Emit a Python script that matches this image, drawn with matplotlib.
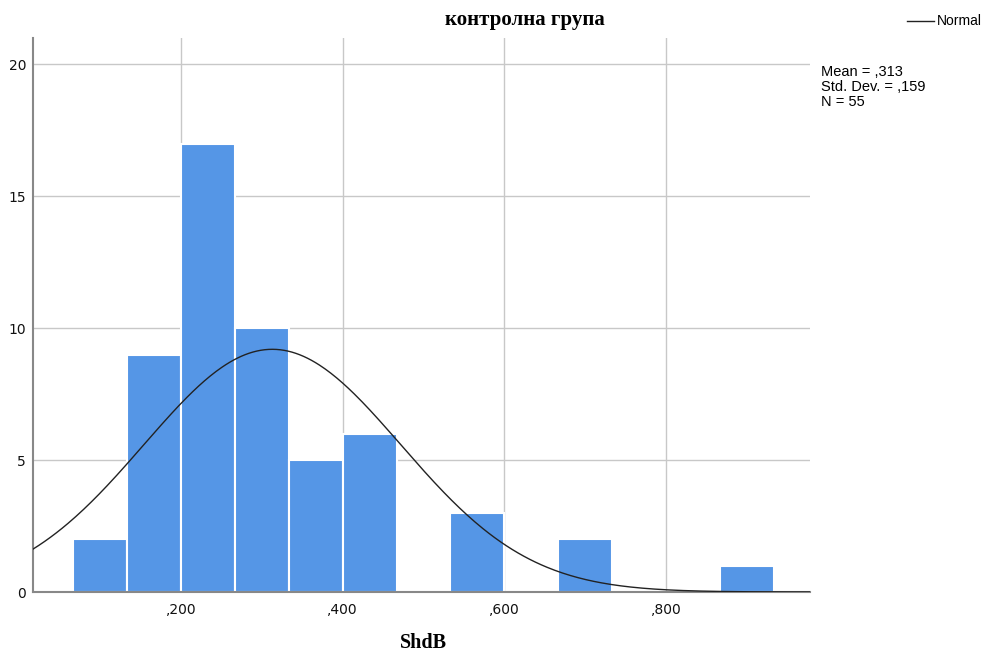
import numpy as np
import matplotlib
matplotlib.use("Agg")
from matplotlib import pyplot as plt
from matplotlib.ticker import FuncFormatter

# histogram bins (width 1/15) and counts
bin_edges = [0.0667 + k / 15 for k in range(14)]
counts = [2, 9, 17, 10, 5, 6, 0, 3, 0, 2, 0, 0, 1]

mean = 0.313
std = 0.159
n = 55

x_ticks = [0.2, 0.4, 0.6, 0.8]
y_ticks = [0, 5, 10, 15, 20]

fig = plt.figure(figsize=(9.82, 6.53), dpi=100)
ax = fig.add_axes([0.0336, 0.0934, 0.7912, 0.8484])

# bars
lefts = np.array(bin_edges[:-1])
widths = np.diff(bin_edges)
ax.bar(lefts, counts, width=widths, align='edge', color='#5596e6',
       edgecolor='white', linewidth=1.5, zorder=2)

# fitted normal curve scaled to counts
bw = 1 / 15
xs = np.linspace(0.017, 0.978, 400)
ys = n * bw / (std * np.sqrt(2 * np.pi)) * np.exp(-0.5 * ((xs - mean) / std) ** 2)
ax.plot(xs, ys, color='#222222', linewidth=1.0, zorder=3, label='Normal')

ax.set_xlim(0.017, 0.978)
ax.set_ylim(0, 21.0)
ax.set_xticks(x_ticks)
ax.set_yticks(y_ticks)
ax.xaxis.set_major_formatter(FuncFormatter(lambda v, p: ',' + ('%.3f' % v)[2:]))
ax.tick_params(length=0, labelsize=10, colors='#111111')
ax.tick_params(axis='x', pad=8)
ax.tick_params(axis='y', pad=5)
ax.grid(True, color='#c8c8c8', linewidth=1.0, zorder=0)
ax.set_axisbelow(True)
for s in ['top', 'right']:
    ax.spines[s].set_visible(False)
for s in ['left', 'bottom']:
    ax.spines[s].set_color('#888888')
    ax.spines[s].set_linewidth(1.5)

fig.text(0.534, 0.969, 'контролна група', ha='center', va='center',
         fontsize=15, fontweight='bold', family='Liberation Serif')
fig.text(0.431, 0.016, 'ShdB', ha='center', va='center',
         fontsize=14.5, fontweight='bold', family='Liberation Serif')

# legend line and stats
fig.lines.append(plt.Line2D([0.924, 0.951], [0.968, 0.968], color='#222222',
                            linewidth=1.0, transform=fig.transFigure))
fig.text(0.954, 0.968, 'Normal', ha='left', va='center', fontsize=10,
         family='Liberation Sans')
stats = ['Mean = ,%03d' % round(mean * 1000),
         'Std. Dev. = ,%03d' % round(std * 1000),
         'N = %d' % n]
for i, line in enumerate(stats):
    fig.text(0.836, (653 - 72 - 15 * i) / 653, line, ha='left', va='center',
             fontsize=10.5, family='Liberation Sans')

fig.savefig('out.png', dpi=100)
